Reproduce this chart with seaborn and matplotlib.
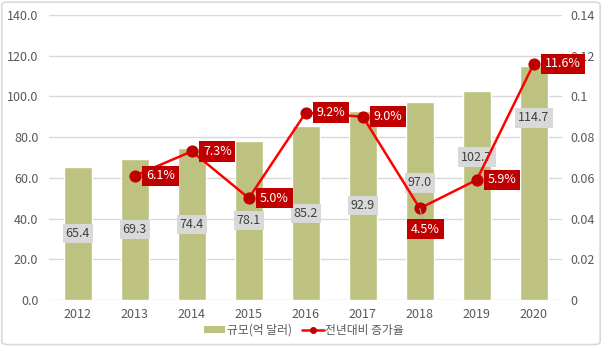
import matplotlib
matplotlib.use("Agg")
import matplotlib.pyplot as plt
import seaborn as sns
import pandas as pd
import numpy as np
from matplotlib.patches import Patch, FancyBboxPatch
from matplotlib.lines import Line2D

years = ["2012", "2013", "2014", "2015", "2016", "2017", "2018", "2019", "2020"]
size_vals = [65.4, 69.3, 74.4, 78.1, 85.2, 92.9, 97.0, 102.7, 114.7]
growth_vals = [np.nan, 0.061, 0.073, 0.050, 0.092, 0.090, 0.045, 0.059, 0.116]
growth_labels = ["", "6.1%", "7.3%", "5.0%", "9.2%", "9.0%", "4.5%", "5.9%", "11.6%"]
left_ticks = [0, 20, 40, 60, 80, 100, 120, 140]
right_ticks = [0, 0.02, 0.04, 0.06, 0.08, 0.1, 0.12, 0.14]
right_tick_labels = ["0", "0.02", "0.04", "0.06", "0.08", "0.1", "0.12", "0.14"]
bar_name = "규모(억 달러)"
line_name = "전년대비 증가율"

sns.set_theme(style="white")
plt.rcParams["font.family"] = ["Noto Sans CJK KR", "DejaVu Sans"]

BAR = "#BDC281"
RED = "#FF0000"
DRED = "#C00000"
TXT = "#595959"
GRID = "#D9D9D9"

fig = plt.figure(figsize=(6.02, 3.46), dpi=100)
ax = fig.add_axes([0.082, 0.133, 0.852, 0.824])

df = pd.DataFrame({"year": years, "size": size_vals})
sns.barplot(data=df, x="year", y="size", color=BAR, width=0.5, saturation=1,
            ax=ax, zorder=2)
ax.set_ylim(0, 140)
ax.set_yticks(left_ticks)
ax.set_yticklabels([f"{v:.1f}" for v in left_ticks])
ax.set_xlim(-0.5, len(years) - 0.5)
ax.grid(axis="y", color=GRID, linewidth=1, zorder=0)
ax.set_axisbelow(True)
ax.set_xlabel("")
ax.set_ylabel("")
for s in ax.spines.values():
    s.set_visible(False)
ax.tick_params(axis="both", length=0, labelsize=9, colors=TXT, pad=6)
ax.tick_params(axis="y", pad=8)

# bar labels (y position of label in data units)
bar_label_y = [v / 2 for v in size_vals]
bar_label_y[6] = 57.5
bar_label_y[7] = 70.2
bar_label_y[8] = 89.4
for i, (v, ly) in enumerate(zip(size_vals, bar_label_y)):
    ax.text(i, ly, f"{v:.1f}", ha="center", va="center", fontsize=9, color="#404040",
            zorder=5,
            bbox=dict(boxstyle="square,pad=0.25", fc="#D9D9D9", ec="none"))

ax2 = ax.twinx()
idx = list(range(len(years)))
sns.lineplot(x=idx, y=growth_vals, ax=ax2, color=RED, linewidth=1.8,
             marker="o", markersize=8, markerfacecolor=DRED, markeredgecolor=DRED,
             zorder=4)
ax2.set_ylim(0, 0.14)
ax2.set_yticks(right_ticks)
ax2.set_yticklabels(right_tick_labels)
ax2.set_xlim(-0.5, len(years) - 0.5)
for s in ax2.spines.values():
    s.set_visible(False)
ax2.tick_params(axis="y", length=0, labelsize=9, colors=TXT, pad=6)
ax2.set_ylabel("")

for i, (g, lab) in enumerate(zip(growth_vals, growth_labels)):
    if np.isnan(g):
        continue
    if i == 6:
        ax2.annotate(lab, (i, g), xytext=(4, -15), textcoords="offset points",
                     ha="center", va="center", fontsize=9, color="white", zorder=6,
                     bbox=dict(boxstyle="square,pad=0.3", fc=DRED, ec="none"),
                     arrowprops=dict(arrowstyle="-", color="#A6A6A6", lw=0.8,
                                     shrinkA=0, shrinkB=0))
    else:
        ax2.annotate(lab, (i, g), xytext=(8, 0), textcoords="offset points",
                     ha="left", va="center", fontsize=9, color="white", zorder=6,
                     bbox=dict(boxstyle="square,pad=0.3", fc=DRED, ec="none"))

handles = [Patch(facecolor=BAR, edgecolor="none", label=bar_name),
           Line2D([0], [0], color=RED, lw=1.8, marker="o", markersize=4,
                  markerfacecolor=DRED, markeredgecolor=DRED, label=line_name)]
fig.legend(handles=handles, loc="center", bbox_to_anchor=(0.505, 0.046), ncol=2,
           frameon=False, fontsize=8.5, labelcolor=TXT, handlelength=1.8,
           handletextpad=0.15, columnspacing=0.9, handleheight=0.45)

border = FancyBboxPatch((0.003, 0.004), 0.994, 0.99, boxstyle="round,pad=0,rounding_size=0.01",
                        transform=fig.transFigure, fc="none", ec="#D9D9D9", lw=1.2)
fig.patches.append(border)

fig.savefig("out.png", dpi=100)
